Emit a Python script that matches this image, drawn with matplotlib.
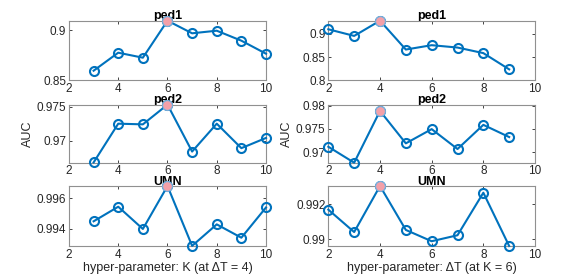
import matplotlib
matplotlib.use("Agg")
import matplotlib.pyplot as plt

plt.rcParams['font.family'] = ['Liberation Sans', 'DejaVu Sans']

K = [3, 4, 5, 6, 7, 8, 9, 10]
K_ped1 = [0.8596, 0.8776, 0.8726, 0.9096, 0.8970, 0.8996, 0.8896, 0.8766]
K_ped2 = [0.9668, 0.9725, 0.9724, 0.9753, 0.9684, 0.9725, 0.9689, 0.9704]
K_umn = [0.9945, 0.99545, 0.9940, 0.9968, 0.9929, 0.9943, 0.99343, 0.9954]

T = [2, 3, 4, 5, 6, 7, 8, 9]
T_ped1 = [0.9100, 0.8957, 0.9285, 0.8663, 0.8757, 0.8706, 0.8586, 0.8236]
T_ped2 = [0.97114, 0.9677, 0.97886, 0.97187, 0.97494, 0.97065, 0.97586, 0.97323]
T_umn = [0.99168, 0.99041, 0.99302, 0.99053, 0.98989, 0.99023, 0.99264, 0.98962]

titles = ['ped1', 'ped2', 'UMN']
blue = '#0072BD'
grey = '#262626'

fig = plt.figure(figsize=(5.73, 2.77), dpi=100)

rows = [(0.7101, 0.2152), (0.4126, 0.2094), (0.1119, 0.2166)]
cols = [(0.1204, 0.3438), (0.5730, 0.3607)]

left = [(K, K_ped1, (0.85, 0.9096), [0.85, 0.9]),
        (K, K_ped2, (0.96676, 0.97529), [0.97, 0.975]),
        (K, K_umn, (0.99289, 0.9968), [0.994, 0.996])]
right = [(T, T_ped1, (0.8, 0.9285), [0.8, 0.85, 0.9]),
         (T, T_ped2, (0.9677, 0.9802), [0.97, 0.975, 0.98]),
         (T, T_umn, (0.98962, 0.99302), [0.99, 0.992])]

for c, panels in enumerate([left, right]):
    for r, (x, y, ylim, yt) in enumerate(panels):
        ax = fig.add_axes([cols[c][0], rows[r][0], cols[c][1], rows[r][1]])
        ax.plot(x, y, '-o', color=blue, lw=1.5, ms=6.5, mfc='none', mew=1.5, clip_on=False, zorder=3)
        i = y.index(max(y))
        ax.plot(x[i], y[i], 'o', ms=7, mfc='#F4A0A8', mec='#7FB2DD', mew=0.8, clip_on=False, zorder=4)
        ax.set_xlim(2, 10)
        ax.set_ylim(*ylim)
        ax.set_xticks([2, 4, 6, 8, 10])
        ax.set_yticks(yt)
        ax.set_yticklabels([('%g' % v) for v in yt])
        ax.tick_params(direction='in', top=True, right=True, labelsize=8.5, colors=grey, length=2.5, width=0.6, pad=2)
        for s in ax.spines.values():
            s.set_color('#909090')
            s.set_linewidth(0.8)
        t = ax.set_title(titles[r], fontsize=9, fontweight='bold', pad=1, color='black')
        t.set_zorder(1)
        if r == 1:
            ax.set_ylabel('AUC', fontsize=9, color=grey, labelpad=2)
        if r == 2:
            if c == 0:
                ax.set_xlabel('hyper-parameter: K (at \u0394T = 4)', fontsize=9, color=grey, labelpad=1)
            else:
                ax.set_xlabel('hyper-parameter: \u0394T (at K = 6)', fontsize=9, color=grey, labelpad=1)

fig.savefig('out.png', dpi=100)
